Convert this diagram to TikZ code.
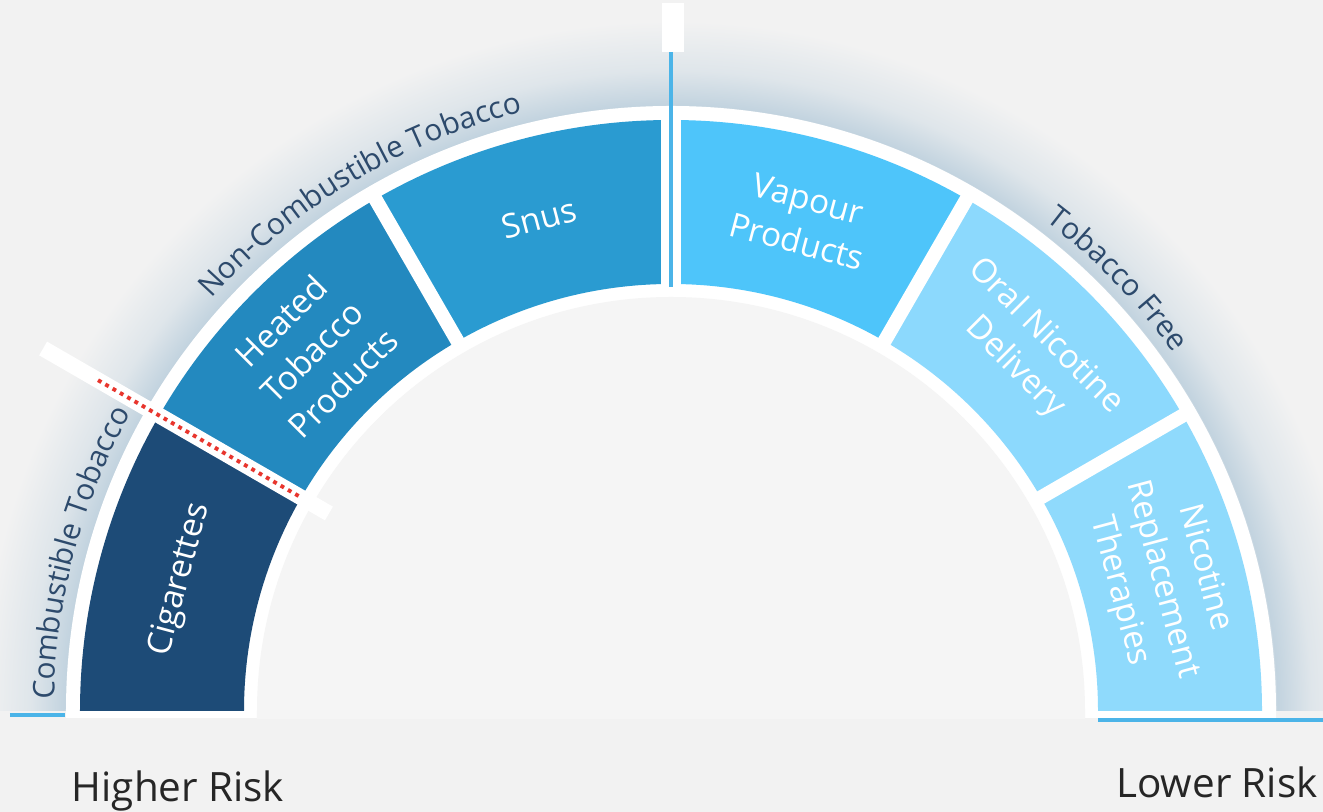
\documentclass[tikz,border=0pt]{standalone}
\usepackage{fontspec}
\setmainfont{Open Sans}
\usetikzlibrary{decorations.text}

\definecolor{bgc}{HTML}{F2F2F2}
\definecolor{innerc}{HTML}{F5F5F5}
\definecolor{glowc}{HTML}{C2D3DF}
\definecolor{cig}{HTML}{1D4B77}
\definecolor{heat}{HTML}{2389BF}
\definecolor{snus}{HTML}{2A9BD1}
\definecolor{vape}{HTML}{4EC5FA}
\definecolor{oral}{HTML}{8CD9FD}
\definecolor{nrt}{HTML}{8FDAFC}
\definecolor{capt}{HTML}{2D4A6C}
\definecolor{rule}{HTML}{4BB4E8}
\definecolor{dot}{HTML}{E8352D}

% halo just outside the white frame of the gauge
\pgfdeclareradialshading{ringglow}{\pgfpoint{0bp}{0bp}}{color(0bp)=(bgc); color(21.8bp)=(bgc); color(21.95bp)=(glowc); color(23.2bp)=(bgc!60!glowc); color(25bp)=(bgc); color(50bp)=(bgc)}

\newcommand{\capfont}{\fontsize{8.5}{10}\selectfont\color{capt}}

\begin{document}
\begin{tikzpicture}[
    seg/.style={font=\fontsize{9.5}{12.5}\selectfont, text=white, align=center},
    risk/.style={font=\fontsize{11.5}{13}\selectfont, text=black!85, anchor=base}]
    \useasboundingbox[fill=bgc] (-6.71,-1.01) rectangle (6.52,7.11);

    % glow
    \begin{scope}
        \clip (-6.71,0) rectangle (6.52,7.11);
        \shade[shading=ringglow] (0,0) circle (6.9);
    \end{scope}

    % white frame
    \fill[white] (6.05,-0.07) -- (6.05,0) arc[start angle=0, end angle=180, radius=6.05] -- (-6.05,-0.07) -- cycle;
    \fill[innerc] (4.14,-0.08) -- (4.14,0) arc[start angle=0, end angle=180, radius=4.14] -- (-4.14,-0.08) -- cycle;

    % the six bands
    \foreach \a/\b/\col in {180/150/cig, 150/120/heat, 120/90/snus, 90/60/vape, 60/30/oral, 30/0/nrt}
        \fill[\col] (\a:5.91) arc[start angle=\a, end angle=\b, radius=5.91] -- (\b:4.27) arc[start angle=\b, end angle=\a, radius=4.27] -- cycle;

    % gaps between bands
    \foreach \a in {120,60,30}
        \draw[white, line width=4pt] (\a:4.2) -- (\a:5.98);
    \draw[white, line width=5.7pt] (90:4.2) -- (90:5.98);
    \draw[rule, line width=1.4pt] (90:4.24) -- (90:6.59);
    \fill[white] (-0.09,6.59) rectangle (0.13,7.08);

    % combustible / non-combustible border
    \draw[white, line width=4.5pt] (150:3.95) -- (150:7.25);
    \draw[dot, line width=1.1pt, dash pattern=on 1.1pt off 1.3pt] (150:4.3) -- (150:6.62);

    % band labels
    \node[seg, rotate=75] (cigs) at (165:5.08) {Cigarettes};
    \node[seg, rotate=45] (heated) at (135:5.08) {Heated\\Tobacco\\Products};
    \node[seg, rotate=15] (snus) at (105:5.1) {Snus};
    \node[seg, rotate=-15] (vapour) at (75:5.08) {Vapour\\Products};
    \node[seg, rotate=-45] (oral) at (45:5.08) {Oral Nicotine\\Delivery};
    \node[seg, rotate=-75] (nrt) at (15:5.08) {Nicotine\\Replacement\\Therapies};

    % group captions round the outside
    \path[decorate, decoration={text along path, text align=center, text={|\capfont|Combustible Tobacco}}]
        (180:6.17) arc[start angle=180, end angle=150, radius=6.17];
    \path[decorate, decoration={text along path, text align=center, text={|\capfont|Non-Combustible Tobacco}}]
        (141:6.17) arc[start angle=141, end angle=101, radius=6.17];
    \path[decorate, decoration={text along path, text align=center, text={|\capfont|Tobacco Free}}]
        (64:6.17) arc[start angle=64, end angle=24, radius=6.17];

    % base lines and risk scale
    \draw[rule, line width=1pt] (-6.61,-0.04) -- (-6.06,-0.04);
    \draw[rule, line width=1pt] (4.27,-0.09) -- (6.52,-0.09);
    \node[risk] (high) at (-4.93,-0.91) {Higher Risk};
    \node[risk] (low) at (5.46,-0.87) {Lower Risk};
\end{tikzpicture}
\end{document}
